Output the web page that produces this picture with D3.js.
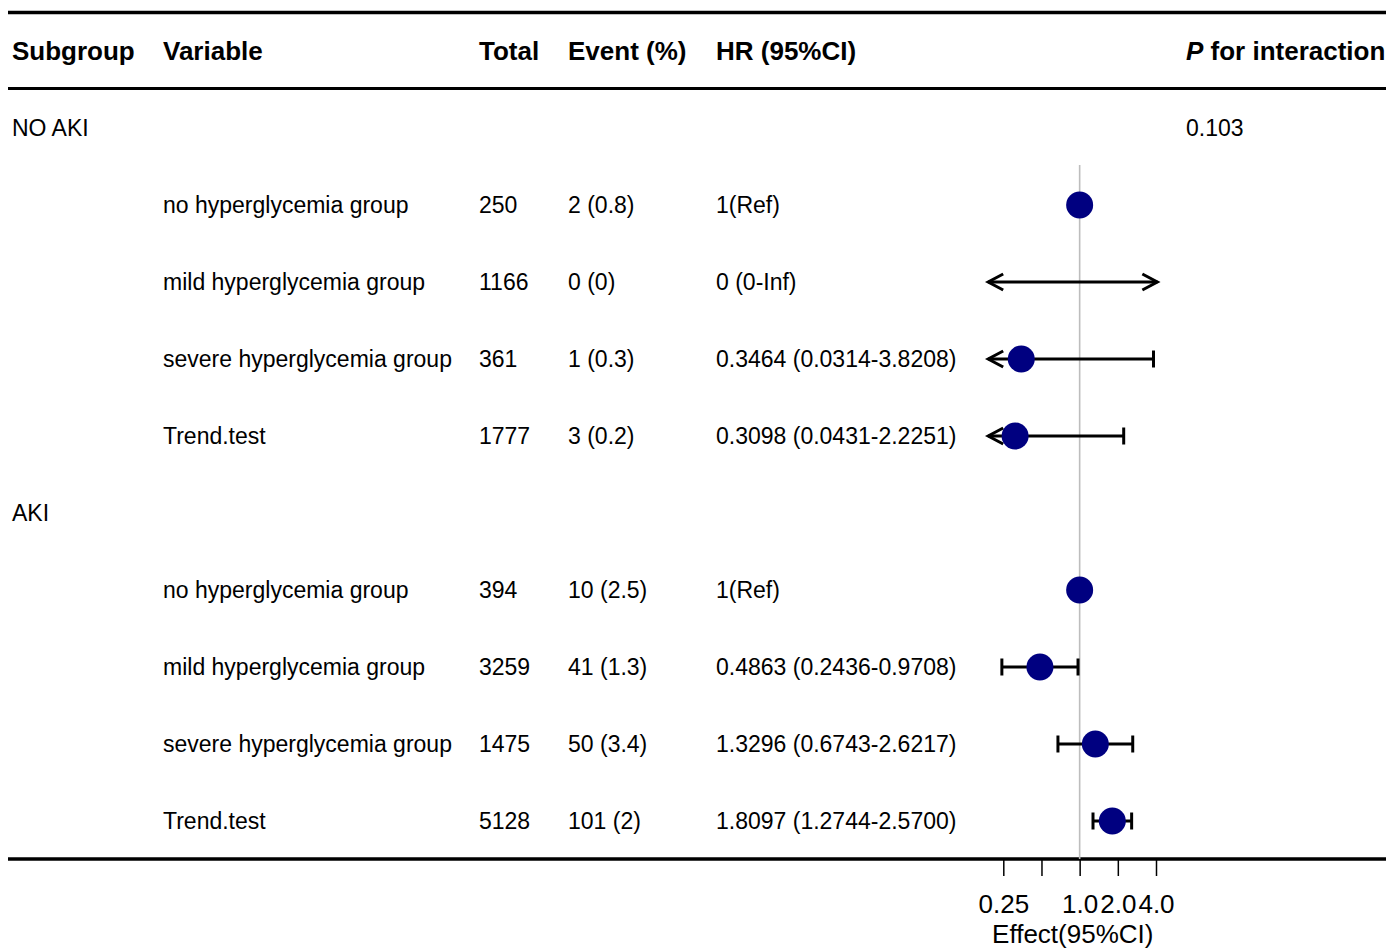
<!DOCTYPE html>
<html>
<head>
<meta charset="utf-8">
<script src="https://cdn.jsdelivr.net/npm/d3@7"></script>
<style>
  html, body { margin: 0; padding: 0; background: #fff; }
  svg { display: block; font-family: "Liberation Sans", Arial, sans-serif; }
</style>
</head>
<body>
<svg id="chart" width="1386" height="948"></svg>
<script>
// ---- data ----
const subgroups = ["NO AKI", "AKI"];
const pInteraction = ["0.103", ""];
const variables = ["no hyperglycemia group", "mild hyperglycemia group", "severe hyperglycemia group", "Trend.test"];

const totals = [
  [250, 1166, 361, 1777],
  [394, 3259, 1475, 5128]
];
const events = [
  ["2 (0.8)", "0 (0)", "1 (0.3)", "3 (0.2)"],
  ["10 (2.5)", "41 (1.3)", "50 (3.4)", "101 (2)"]
];
const hr = [
  [1, 0, 0.3464, 0.3098],
  [1, 0.4863, 1.3296, 1.8097]
];
const hrLower = [
  [1, 0, 0.0314, 0.0431],
  [1, 0.2436, 0.6743, 1.2744]
];
const hrUpper = [
  [1, Infinity, 3.8208, 2.2251],
  [1, 0.9708, 2.6217, 2.5700]
];
const isRef = [
  [true, false, false, false],
  [true, false, false, false]
];

const tickValues = [0.25, 0.5, 1, 2, 4];
const tickLabels = ["0.25", "", "1.0", "2.0", "4.0"];
const xLimits = [0.19, 4.1];
const axisTitle = "Effect(95%CI)";

// ---- layout ----
const W = 1386, H = 948;
const rowH = 77;
const headerY = 51;
const firstRowY = 128;
const colX = { sub: 12, variable: 163, total: 479, event: 568, hr: 716, p: 1186 };
const bodySize = 23, headSize = 26, axisSize = 26;
const lineLeft = 8;
const bottomLineY = 859;

const svg = d3.select("#chart");

const x = d3.scaleLog().domain([0.25, 4]).range([1003.3, 1156]);
const clip = v => Math.max(xLimits[0], Math.min(xLimits[1], v));

// flatten into table rows
const rows = [];
subgroups.forEach((g, gi) => {
  rows.push({ type: "group", label: g, p: pInteraction[gi] });
  variables.forEach((v, vi) => {
    const est = hr[gi][vi], lo = hrLower[gi][vi], hi = hrUpper[gi][vi];
    let txt;
    if (isRef[gi][vi]) txt = "1(Ref)";
    else if (est === 0) txt = `0 (0-${isFinite(hi) ? hi : "Inf"})`;
    else txt = `${d3.format(".4f")(est)} (${d3.format(".4f")(lo)}-${d3.format(".4f")(hi)})`;
    rows.push({ type: "item", variable: v, total: totals[gi][vi], event: events[gi][vi],
                est, lo, hi, txt, ref: isRef[gi][vi] });
  });
});
rows.forEach((r, i) => r.y = firstRowY + i * rowH);

// ---- rules ----
const rule = (y, w) => svg.append("line")
  .attr("x1", lineLeft).attr("x2", W + 2).attr("y1", y).attr("y2", y)
  .attr("stroke", "#000").attr("stroke-width", w);
rule(12.5, 3.5);
rule(88.5, 3);
rule(bottomLineY, 3.5);

// ---- header ----
const head = svg.append("g").attr("font-size", headSize).attr("font-weight", "bold").attr("fill", "#000");
const hb = headerY + headSize * 0.36;
[["Subgroup", colX.sub], ["Variable", colX.variable], ["Total", colX.total],
 ["Event (%)", colX.event], ["HR (95%CI)", colX.hr]].forEach(([t, xx]) =>
  head.append("text").attr("x", xx).attr("y", hb).text(t));
const pt = head.append("text").attr("x", colX.p).attr("y", hb);
pt.append("tspan").attr("font-style", "italic").text("P");
pt.append("tspan").text(" for interaction");

// ---- body text ----
const body = svg.append("g").attr("font-size", bodySize).attr("fill", "#000");
rows.forEach(r => {
  const by = r.y + bodySize * 0.36;
  if (r.type === "group") {
    body.append("text").attr("x", colX.sub).attr("y", by).text(r.label);
    if (r.p) body.append("text").attr("x", colX.p).attr("y", by).text(r.p);
  } else {
    body.append("text").attr("x", colX.variable).attr("y", by).text(r.variable);
    body.append("text").attr("x", colX.total).attr("y", by).text(r.total);
    body.append("text").attr("x", colX.event).attr("y", by).text(r.event);
    body.append("text").attr("x", colX.hr).attr("y", by).text(r.txt);
  }
});

// ---- reference line at HR = 1 ----
const items = rows.filter(r => r.type === "item");
svg.append("line")
  .attr("x1", x(1)).attr("x2", x(1))
  .attr("y1", items[0].y - 40).attr("y2", bottomLineY)
  .attr("stroke", "#bdbdbd").attr("stroke-width", 1.6);

// ---- confidence intervals ----
const ci = svg.append("g").attr("stroke", "#000").attr("stroke-width", 3).attr("fill", "none");
const capH = 8.5, arrowLen = 15, arrowW = 8;
items.forEach(r => {
  if (r.ref) return;
  const loC = clip(r.lo === 0 ? xLimits[0] : r.lo), hiC = clip(r.hi);
  const x1 = x(loC), x2 = x(hiC), y = r.y;
  ci.append("line").attr("x1", x1).attr("x2", x2).attr("y1", y).attr("y2", y);
  const leftArrow = r.lo === 0 || r.lo < xLimits[0];
  const rightArrow = !isFinite(r.hi) || r.hi > xLimits[1];
  if (leftArrow) ci.append("path").attr("d", `M${x1 + arrowLen},${y - arrowW}L${x1},${y}L${x1 + arrowLen},${y + arrowW}`);
  else ci.append("line").attr("x1", x1).attr("x2", x1).attr("y1", y - capH).attr("y2", y + capH);
  if (rightArrow) ci.append("path").attr("d", `M${x2 - arrowLen},${y - arrowW}L${x2},${y}L${x2 - arrowLen},${y + arrowW}`);
  else ci.append("line").attr("x1", x2).attr("x2", x2).attr("y1", y - capH).attr("y2", y + capH);
});

// ---- point estimates ----
svg.append("g").selectAll("circle")
  .data(items.filter(r => r.est > 0))
  .join("circle")
  .attr("cx", r => x(r.est)).attr("cy", r => r.y).attr("r", 13.5)
  .attr("fill", "#000080");

// ---- x axis ----
const axis = d3.axisBottom(x)
  .tickValues(tickValues)
  .tickFormat((d, i) => tickLabels[i])
  .tickSize(17).tickPadding(19);
const ax = svg.append("g").attr("transform", `translate(0,${bottomLineY})`).call(axis);
ax.select(".domain").remove();
ax.selectAll(".tick line").attr("stroke", "#000").attr("stroke-width", 1.5);
ax.selectAll(".tick text").attr("font-size", axisSize).attr("fill", "#000")
  .attr("font-family", "'Liberation Sans', Arial, sans-serif");

// axis title, centred under the middle of the x range
svg.append("text")
  .attr("x", (x(xLimits[0]) + x(xLimits[1])) / 2).attr("y", 943)
  .attr("text-anchor", "middle").attr("font-size", axisSize).attr("fill", "#000")
  .text(axisTitle);
</script>
</body>
</html>
